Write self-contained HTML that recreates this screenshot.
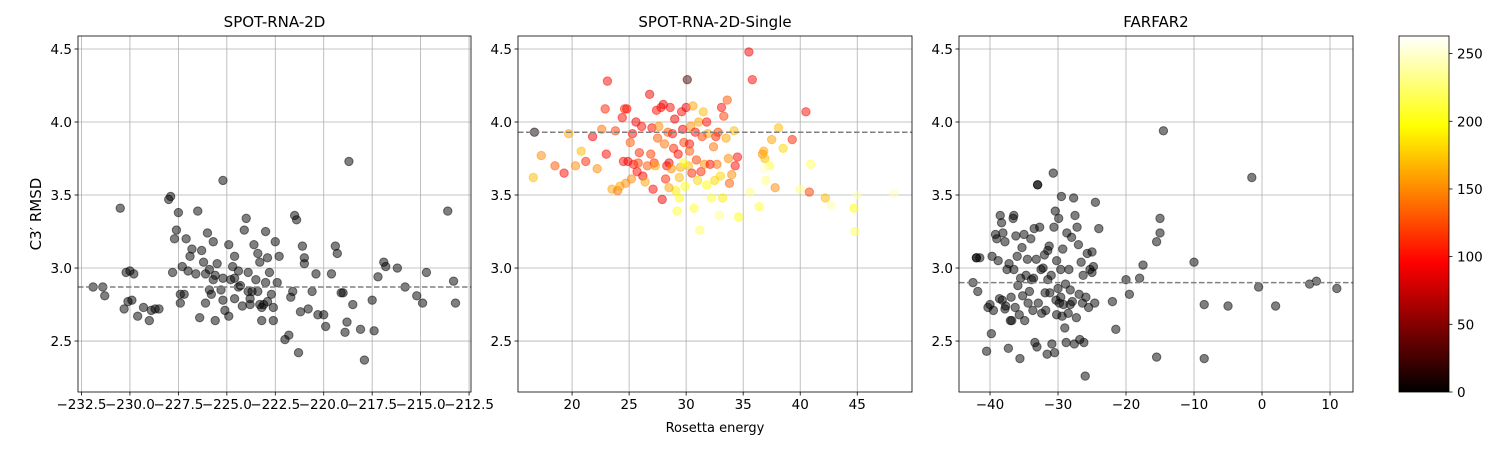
<!DOCTYPE html>
<html><head><meta charset="utf-8"><style>
body{margin:0;background:#fff;}
svg{display:block;font-family:"DejaVu Sans","Liberation Sans",sans-serif;}
</style></head><body>
<svg id="fig" width="1500" height="450" viewBox="0 0 1500 450">
<defs>
<linearGradient id="hotgrad" x1="0" y1="1" x2="0" y2="0">
<stop offset="0" stop-color="#000"/><stop offset="0.365" stop-color="#f00"/><stop offset="0.746" stop-color="#ff0"/><stop offset="1" stop-color="#fff"/>
</linearGradient>
</defs>
</svg>
<script>
const yTicks = [2.5, 3.0, 3.5, 4.0, 4.5];
const p1Ticks = [-232.5,-230.0,-227.5,-225.0,-222.5,-220.0,-217.5,-215.0,-212.5];
const p2Ticks = [20,25,30,35,40,45];
const p3Ticks = [-40,-30,-20,-10,0,10];
const cbTicks = [0,50,100,150,200,250];
const titles = ["SPOT-RNA-2D","SPOT-RNA-2D-Single","FARFAR2"];
const refLines = [2.87, 3.93, 2.90];
const p1Points = [[-231.9,2.87],[-231.4,2.87],[-231.3,2.81],[-230.5,3.41],[-230.3,2.72],[-230.2,2.97],[-230.1,2.77],[-230.0,2.98],[-229.9,2.78],[-229.8,2.96],[-229.6,2.67],[-229.3,2.73],[-229.0,2.64],[-228.9,2.71],[-228.7,2.72],[-228.5,2.72],[-228.0,3.47],[-227.9,3.49],[-227.8,2.97],[-227.7,3.20],[-227.6,3.26],[-227.5,3.38],[-227.4,2.76],[-227.4,2.82],[-227.3,3.01],[-227.2,2.82],[-227.1,3.20],[-227.0,2.98],[-226.9,3.08],[-226.8,3.13],[-226.6,2.96],[-226.5,3.39],[-226.4,2.66],[-226.3,3.12],[-226.2,3.04],[-226.1,2.96],[-226.0,3.24],[-225.9,2.85],[-225.9,2.99],[-225.8,2.82],[-225.7,2.92],[-225.7,3.18],[-225.6,2.64],[-225.5,3.03],[-225.3,2.85],[-225.2,3.60],[-225.2,2.78],[-225.1,2.71],[-224.9,3.16],[-224.9,2.67],[-224.8,2.92],[-224.7,3.01],[-224.6,2.93],[-224.4,2.98],[-224.3,2.88],[-224.2,2.74],[-224.1,3.26],[-224.0,3.34],[-223.9,2.97],[-223.8,2.75],[-223.8,2.79],[-223.7,2.84],[-223.6,3.16],[-223.5,2.92],[-223.4,2.84],[-223.3,2.75],[-223.2,2.73],[-223.1,2.75],[-223.0,2.90],[-223.4,3.10],[-223.3,3.04],[-223.2,2.64],[-223.0,3.25],[-222.9,3.07],[-222.8,2.97],[-222.7,2.82],[-222.6,2.73],[-222.6,2.64],[-222.5,3.18],[-222.4,2.90],[-222.3,3.08],[-222.0,2.51],[-221.8,2.54],[-221.7,2.80],[-221.6,2.84],[-221.5,3.36],[-221.4,3.33],[-221.3,2.42],[-221.2,2.70],[-221.1,3.15],[-221.0,3.07],[-221.0,3.03],[-220.8,2.72],[-220.6,2.84],[-220.4,2.96],[-220.3,2.68],[-220.0,2.68],[-219.9,2.60],[-219.6,2.96],[-219.4,3.15],[-219.3,3.10],[-219.1,2.83],[-219.0,2.83],[-218.9,2.56],[-218.8,2.63],[-218.7,3.73],[-218.5,2.75],[-218.1,2.58],[-217.9,2.37],[-217.5,2.78],[-217.4,2.57],[-217.2,2.94],[-216.9,3.04],[-216.8,3.01],[-216.2,3.00],[-215.8,2.87],[-215.2,2.81],[-214.9,2.76],[-214.7,2.97],[-213.6,3.39],[-213.3,2.91],[-213.2,2.76],[-224.4,2.87],[-225.2,2.93],[-224.6,2.79],[-223.9,2.84],[-222.9,2.77],[-224.6,3.08],[-225.6,2.95],[-226.1,2.76]];
const p2Points = [[16.7,3.93,5],[16.6,3.62,170],[17.3,3.77,150],[18.5,3.70,130],[19.3,3.65,100],[19.7,3.92,160],[20.3,3.70,150],[20.8,3.80,170],[21.2,3.73,110],[21.8,3.90,90],[22.2,3.68,150],[22.6,3.95,140],[22.9,4.09,110],[23.1,4.28,100],[23.0,3.78,100],[23.5,3.54,160],[23.8,3.94,120],[24.0,3.53,140],[24.2,3.56,160],[24.4,4.03,100],[24.5,3.73,100],[24.6,4.09,110],[24.8,4.09,100],[24.9,3.73,90],[25.2,3.61,150],[25.3,3.92,100],[25.4,3.71,100],[25.6,4.00,90],[25.7,3.66,100],[25.9,3.79,110],[26.1,3.97,100],[26.2,3.63,90],[26.4,3.59,160],[26.6,3.70,130],[26.8,4.19,90],[27.0,3.96,100],[27.1,3.54,100],[27.2,3.72,110],[27.4,4.08,100],[27.5,3.89,130],[27.6,3.97,150],[27.8,4.10,100],[27.9,3.47,90],[28.0,4.12,90],[28.1,3.85,140],[28.2,3.61,110],[28.3,3.70,100],[28.4,3.93,130],[28.5,3.72,90],[28.6,4.10,100],[28.7,3.68,150],[28.8,3.92,100],[28.9,3.82,110],[29.0,4.02,90],[29.1,3.53,190],[29.2,3.39,210],[29.3,3.78,100],[29.4,3.48,200],[29.5,3.69,160],[29.6,4.07,100],[29.7,3.95,90],[29.8,3.86,120],[29.9,3.56,200],[30.0,4.10,90],[30.1,4.29,30],[30.2,3.70,170],[30.3,3.85,100],[30.4,3.97,150],[30.5,3.65,110],[30.6,4.11,160],[30.7,3.41,210],[30.8,3.93,100],[30.9,3.74,120],[31.0,3.60,180],[31.1,4.00,160],[31.2,3.26,220],[31.3,3.66,110],[31.5,4.07,170],[31.6,3.71,150],[31.8,3.57,200],[31.9,3.92,160],[32.1,3.71,100],[32.2,3.48,210],[32.4,3.83,140],[32.5,3.60,180],[32.7,3.71,140],[32.8,3.93,120],[33.0,3.63,180],[33.1,4.10,100],[33.2,3.48,190],[33.3,4.04,120],[33.5,3.89,160],[33.6,4.15,130],[33.7,3.75,150],[34.0,3.64,150],[34.2,3.94,170],[34.3,3.70,100],[34.5,3.76,100],[34.6,3.35,200],[35.5,4.48,90],[35.6,3.52,230],[35.8,4.29,100],[36.4,3.42,210],[36.7,3.78,150],[36.8,3.80,160],[36.9,3.75,170],[37.0,3.60,230],[37.3,3.70,210],[37.5,3.88,160],[37.8,3.55,150],[38.1,3.96,170],[38.5,3.82,180],[39.3,3.88,110],[40.0,3.54,230],[40.5,4.07,100],[40.8,3.52,120],[40.9,3.71,220],[42.2,3.48,170],[42.7,3.43,240],[44.7,3.41,200],[44.8,3.25,220],[48.2,3.51,245],[45.0,3.50,245],[36.8,3.68,250],[25.1,3.86,130],[26.9,3.78,120],[28.5,3.55,160],[29.8,3.72,200],[31.4,3.90,120],[32.6,3.90,110],[33.8,3.58,130],[32.9,3.36,230],[27.3,3.70,160],[25.8,3.72,120],[24.7,3.58,150],[30.3,3.80,130],[31.8,4.00,100],[29.4,3.62,170]];
const p3Points = [[-42.5,2.90],[-42,3.07],[-41.5,3.07],[-41.8,2.84],[-40.5,2.43],[-40.3,2.73],[-40,2.75],[-39.8,2.55],[-39.7,3.08],[-39.5,2.71],[-39.2,3.23],[-39,3.20],[-38.8,3.05],[-38.6,2.79],[-38.5,3.36],[-38.3,3.31],[-38.1,3.24],[-38.2,2.78],[-37.8,3.18],[-37.7,2.74],[-37.5,2.99],[-37.3,2.45],[-37.2,3.03],[-37,2.64],[-36.9,2.80],[-36.8,2.64],[-36.6,3.34],[-36.5,3.36],[-36.3,2.73],[-36.2,3.22],[-36,3.08],[-35.9,2.88],[-35.7,2.68],[-35.6,2.38],[-35.5,2.93],[-35.3,3.14],[-35.2,2.81],[-35,3.23],[-34.9,2.64],[-34.7,2.95],[-34.5,3.06],[-34.4,2.76],[-34.2,2.84],[-34,3.20],[-33.9,2.92],[-33.7,2.71],[-33.5,3.27],[-33.4,2.49],[-33.2,3.06],[-33,3.57],[-33.1,2.46],[-32.9,2.76],[-32.7,3.28],[-32.5,2.99],[-32.4,2.69],[-32.2,3.00],[-32,3.09],[-31.9,2.83],[-31.8,2.71],[-31.6,2.41],[-31.5,3.12],[-31.3,3.15],[-31.2,2.83],[-31,2.95],[-30.9,2.48],[-30.7,3.65],[-30.6,3.28],[-30.5,2.42],[-30.4,3.39],[-30.3,2.78],[-30.2,3.05],[-30,2.86],[-29.9,3.34],[-29.8,2.76],[-29.6,2.99],[-29.5,3.49],[-29.4,2.67],[-29.3,3.13],[-29.2,2.75],[-29,2.59],[-28.9,2.89],[-28.8,2.49],[-28.7,3.24],[-28.5,2.69],[-28.4,2.99],[-28.2,2.85],[-28,3.21],[-27.9,2.77],[-27.7,3.48],[-27.6,2.48],[-27.5,3.36],[-27.3,2.66],[-27.2,3.28],[-27,3.16],[-26.9,2.82],[-26.8,2.51],[-26.6,3.04],[-26.4,2.76],[-26.3,2.95],[-26.2,2.49],[-26,2.26],[-25.9,2.80],[-25.7,3.10],[-25.5,2.73],[-25.3,2.99],[-25,2.97],[-24.8,3.01],[-24.6,2.76],[-29.6,2.80],[-31.5,2.92],[-33.6,2.93],[-30.2,2.68],[-28.2,2.75],[-36.5,2.99],[-37.8,2.72],[-14.5,3.94],[-1.5,3.62],[-15.5,3.18],[-15,3.34],[-15,3.24],[-17.5,3.02],[-18,2.93],[-20,2.92],[-19.5,2.82],[-22,2.77],[-21.5,2.58],[-10,3.04],[-8.5,2.75],[-8.5,2.38],[-5,2.74],[-15.5,2.39],[-0.5,2.87],[2,2.74],[7,2.89],[8,2.91],[11,2.86],[-24.5,3.45],[-24,3.27],[-25,3.11],[-33,3.57],[-42,3.07]];

const NS = "http://www.w3.org/2000/svg";
const svg = document.getElementById('fig');
function mk(tag, attrs, parent){const e=document.createElementNS(NS,tag);for(const k in attrs)e.setAttribute(k,attrs[k]);(parent||svg).appendChild(e);return e;}
function hot(v){const t=Math.max(0,Math.min(1,v/263));const r=Math.min(1,t/0.365),g=Math.max(0,Math.min(1,(t-0.365)/0.381)),b=Math.max(0,Math.min(1,(t-0.746)/0.254));return `rgb(${Math.round(r*255)},${Math.round(g*255)},${Math.round(b*255)})`;}
const TOP=36, BOT=392, YMIN=2.151, YMAX=4.589;
function yS(v){return BOT-(v-YMIN)/(YMAX-YMIN)*(BOT-TOP);}
const panels=[
 {L:78,R:471,xmin:-232.68,xmax:-212.4,ticks:p1Ticks,pts:p1Points,fmt:v=>v.toFixed(1)},
 {L:518,R:912,xmin:15.26,xmax:49.8,ticks:p2Ticks,pts:p2Points,fmt:v=>String(v)},
 {L:959,R:1353,xmin:-44.56,xmax:13.38,ticks:p3Ticks,pts:p3Points,fmt:v=>String(v)}
];
panels.forEach((p,i)=>{
 const g=mk('g',{});
 
 
 const xS=v=>p.L+(v-p.xmin)/(p.xmax-p.xmin)*(p.R-p.L);
 p.ticks.forEach(t=>{const x=xS(t);
  const gl=mk('line',{x1:x,x2:x,y1:TOP,y2:BOT,stroke:'#b0b0b0','stroke-width':0.8},g);
  
  
  mk('line',{x1:x,x2:x,y1:BOT,y2:BOT+3.5,stroke:'#000','stroke-width':0.8},g);
  const tx=mk('text',{x:x,y:BOT+17,'text-anchor':'middle','font-size':13.5,fill:'#000'},g);
  tx.textContent=p.fmt(t).replace('-','\u2212');
  
  
 });
 yTicks.forEach(t=>{const y=yS(t);
  const gl=mk('line',{x1:p.L,x2:p.R,y1:y,y2:y,stroke:'#b0b0b0','stroke-width':0.8},g);
  
  
  mk('line',{x1:p.L-3.5,x2:p.L,y1:y,y2:y,stroke:'#000','stroke-width':0.8},g);
  const tx=mk('text',{x:p.L-6,y:y+5,'text-anchor':'end','font-size':13.5,fill:'#000'},g);
  tx.textContent=t.toFixed(1);
  
  
 });
 p.pts.forEach(d=>{
  const col=d.length>2?hot(d[2]):'#000';
  const c=mk('circle',{cx:xS(d[0]),cy:yS(d[1]),r:4.2,fill:col,'fill-opacity':0.5,stroke:col,'stroke-opacity':0.5,'stroke-width':1},g);
  
  
 });
 const ry=yS(refLines[i]);
 const rl=mk('line',{x1:p.L,x2:p.R,y1:ry,y2:ry,stroke:'#808080','stroke-width':1.5,'stroke-dasharray':'5.5,2.5'},g);
 
 
 const fr=mk('rect',{x:p.L,y:TOP,width:p.R-p.L,height:BOT-TOP,fill:'none',stroke:'#000','stroke-width':0.8},g);
 
 
 const tt=mk('text',{x:(p.L+p.R)/2,y:27,'text-anchor':'middle','font-size':15,fill:'#000'},g);
 tt.textContent=titles[i];
 
 
});
const yl=mk('text',{x:0,y:0,'text-anchor':'middle','font-size':15,fill:'#000',transform:'translate(41,214) rotate(-90)'});
yl.textContent="C3\u2032 RMSD";


const xl=mk('text',{x:715,y:432,'text-anchor':'middle','font-size':13,fill:'#000'});
xl.textContent="Rosetta energy";


const cb=mk('rect',{x:1399,y:TOP,width:50,height:BOT-TOP,fill:'url(#hotgrad)',stroke:'#000','stroke-width':0.8});


cbTicks.forEach(t=>{const y=BOT-t/263*(BOT-TOP);
 mk('line',{x1:1449,x2:1452.5,y1:y,y2:y,stroke:'#000','stroke-width':0.8});
 const tx=mk('text',{x:1457,y:y+5,'font-size':13.5,fill:'#000'});
 tx.textContent=String(t);
 
 
});
</script>
</body></html>
